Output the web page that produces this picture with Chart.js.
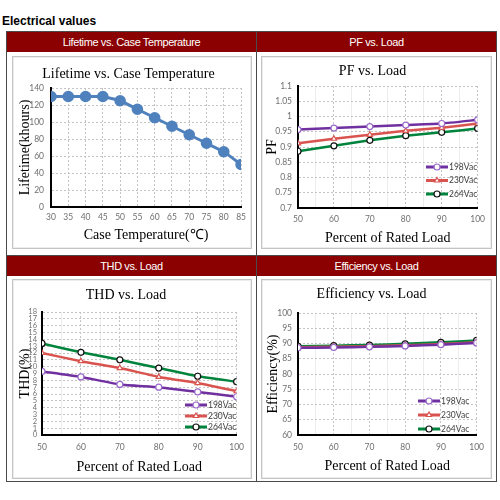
<!DOCTYPE html>
<html lang="en">
<head>
  <meta charset="UTF-8" />
  <title>Electrical values</title>
  <script src="https://cdn.jsdelivr.net/npm/chart.js"></script>
  <style>
    body { margin:0; background:#fff; width:500px; height:500px; position:relative; overflow:hidden; }
    .heading {
      position:absolute; left:2px; top:14px;
      font: bold 12px "Liberation Sans", Arial, sans-serif; color:#000;
    }
    .line { position:absolute; background:#4a4a4a; }
    .hd {
      position:absolute; height:20px; background:#8b0000; color:#fff;
      font: 11px "Liberation Sans", Arial, sans-serif; letter-spacing:-0.4px;
      text-align:center; line-height:20px;
    }
    .box {
      position:absolute; border:1px solid #c4c4c4; box-shadow: inset 0 0 0 1px #ececec;
      box-sizing:border-box;
    }
    .box canvas { position:absolute; left:0; top:0; }
  </style>
</head>
<body>
  <div class="heading">Electrical values</div>

  <!-- table frame -->
  <div class="line" style="left:6px; top:31px; width:491px; height:1px"></div>
  <div class="line" style="left:6px; top:481px; width:491px; height:1px"></div>
  <div class="line" style="left:6px; top:31px; width:1px; height:451px"></div>
  <div class="line" style="left:496px; top:31px; width:1px; height:451px"></div>
  <div class="line" style="left:256px; top:31px; width:1px; height:451px"></div>
  <div class="line" style="left:6px; top:255px; width:491px; height:1px"></div>

  <div class="hd" style="left:7px; top:32px; width:249px">Lifetime vs. Case Temperature</div>
  <div class="hd" style="left:257px; top:32px; width:239px">PF vs. Load</div>
  <div class="hd" style="left:7px; top:256px; width:249px">THD vs. Load</div>
  <div class="hd" style="left:257px; top:256px; width:239px">Efficiency vs. Load</div>

  <div class="box" style="left:12px; top:56px; width:240px; height:193px">
    <canvas id="lifeChart" width="238" height="191"></canvas>
  </div>
  <div class="box" style="left:261px; top:56px; width:231px; height:193px">
    <canvas id="pfChart" width="229" height="191"></canvas>
  </div>
  <div class="box" style="left:12px; top:279px; width:240px; height:200px">
    <canvas id="thdChart" width="238" height="198"></canvas>
  </div>
  <div class="box" style="left:261px; top:279px; width:231px; height:200px">
    <canvas id="effChart" width="229" height="198"></canvas>
  </div>

  <script>
    // Lifetime vs. case temperature
    const caseTemps = [30, 35, 40, 45, 50, 55, 60, 65, 70, 75, 80, 85];
    const lifetime = [130, 130, 130, 130, 125, 115, 105, 95, 85, 75, 65, 50];

    // load in percent of rated load
    const loads = [50, 60, 70, 80, 90, 100];
    const voltages = ['198Vac', '230Vac', '264Vac'];

    const pf198 = [0.957, 0.962, 0.967, 0.972, 0.977, 0.989];
    const pf230 = [0.912, 0.927, 0.940, 0.953, 0.963, 0.977];
    const pf264 = [0.886, 0.904, 0.922, 0.937, 0.948, 0.961];

    const thd198 = [9.3, 8.5, 7.4, 7.0, 6.3, 5.6];
    const thd230 = [12.0, 10.8, 9.8, 8.5, 7.6, 6.4];
    const thd264 = [13.4, 12.1, 11.0, 9.8, 8.6, 7.8];

    const eff198 = [88.6, 88.7, 88.9, 89.2, 89.6, 90.2];
    const eff230 = [88.8, 88.9, 89.1, 89.4, 89.8, 90.4];
    const eff264 = [89.1, 89.3, 89.5, 89.9, 90.4, 91.0];

    const SERIF = '"Liberation Serif", "Times New Roman", serif';
    const SANS = 'Lato, "Liberation Sans", sans-serif';
    const GRID_MAJOR = '#c4c4c4';
    const GRID_MINOR = '#ececec';

    const seriesStyle = [
      { color: '#7030a0', point: 'circle', pointBorder: '#9a6acb' },
      { color: '#d9534f', point: 'triangle', pointBorder: '#d9534f' },
      { color: '#00843d', point: 'circle', pointBorder: '#111111' }
    ];

    // legend drawn as line + marker, inside the plot area
    const lineLegend = {
      id: 'lineLegend',
      afterDraw(chart, args, opts) {
        if (!opts || !opts.display) return;
        const ctx = chart.ctx;
        const area = chart.chartArea;
        ctx.save();
        chart.data.datasets.forEach((ds, i) => {
          const y = area.top + opts.top + i * opts.rowGap;
          const x0 = area.left + opts.left;
          ctx.strokeStyle = ds.borderColor;
          ctx.lineWidth = 3;
          ctx.beginPath();
          ctx.moveTo(x0, y);
          ctx.lineTo(x0 + opts.lineLen, y);
          ctx.stroke();
          ctx.fillStyle = ds.pointBackgroundColor;
          ctx.strokeStyle = ds.pointBorderColor;
          ctx.lineWidth = ds.pointBorderWidth;
          Chart.helpers.drawPoint(ctx, {
            pointStyle: ds.pointStyle, radius: ds.pointRadius,
            borderWidth: ds.pointBorderWidth, rotation: 0
          }, x0 + opts.lineLen / 2, y);
          ctx.fillStyle = '#404040';
          ctx.font = '8.5px ' + SANS;
          ctx.textBaseline = 'middle';
          ctx.textAlign = 'left';
          ctx.fillText(ds.label, x0 + opts.lineLen + 1, y);
        });
        ctx.restore();
      }
    };
    Chart.register(lineLegend);

    function makeSeries(values) {
      return values.map((v, i) => {
        const s = seriesStyle[i];
        return {
          label: voltages[i],
          data: loads.map((x, j) => ({ x: x, y: v[j] })),
          borderColor: s.color,
          borderWidth: 2.5,
          pointStyle: s.point,
          pointRadius: 3,
          pointBackgroundColor: '#ffffff',
          pointBorderColor: s.pointBorder,
          pointBorderWidth: 1.2,
          tension: 0.15
        };
      });
    }

    function axisX(min, max, step, labelEvery, cfg) {
      return {
        type: 'linear', min: min, max: max,
        ticks: {
          stepSize: step, color: '#707070', font: { family: SANS, size: 8.5 },
          padding: cfg.tickPad, maxRotation: 0, autoSkip: false,
          callback: v => (v % labelEvery === 0 ? v : '')
        },
        grid: {
          drawTicks: false,
          color: c => (c.tick && c.tick.value % labelEvery === 0 ? GRID_MAJOR : GRID_MINOR),
          lineWidth: 1
        },
        border: {
          color: '#000', width: 2,
          dash: c => (c.tick && c.tick.value % labelEvery === 0 ? [2, 2] : [])
        },
        title: {
          display: true, text: cfg.title, color: '#000',
          font: { family: SERIF, size: 14 }, padding: { top: 0, bottom: cfg.titlePad }
        },
        afterFit: s => { s.height = cfg.height; }
      };
    }

    function axisY(min, max, step, cfg) {
      return {
        type: 'linear', min: min, max: max,
        ticks: {
          stepSize: step, color: '#707070', font: { family: SANS, size: cfg.tickSize || 8.5 },
          padding: cfg.tickPad, autoSkip: false,
          callback: v => Number(v.toFixed(2)).toString()
        },
        grid: { drawTicks: false, color: GRID_MAJOR, lineWidth: 1 },
        border: { color: '#000', width: 2, dash: [2, 2] },
        title: {
          display: true, text: cfg.title, color: '#000',
          font: { family: SERIF, size: 14 }, padding: { top: cfg.titlePad, bottom: 0 }
        },
        afterFit: s => { s.width = cfg.width; }
      };
    }

    function baseOptions(title, titlePad, right, x, y, legend) {
      return {
        responsive: false, animation: false,
        layout: { padding: { left: 0, right: right, top: 0, bottom: 0 } },
        plugins: {
          legend: { display: false },
          tooltip: { enabled: false },
          title: {
            display: true, text: title, color: '#000',
            font: { family: SERIF, size: 14, weight: 'normal' },
            padding: titlePad
          },
          lineLegend: legend
        },
        scales: { x: x, y: y }
      };
    }

    new Chart(document.getElementById('lifeChart'), {
      type: 'line',
      data: {
        datasets: [{
          label: 'Lifetime',
          data: caseTemps.map((t, i) => ({ x: t, y: lifetime[i] })),
          borderColor: '#4f81bd', borderWidth: 3,
          pointRadius: 4.3, pointBackgroundColor: '#4f81bd', pointBorderColor: '#4f81bd',
          tension: 0.1
        }]
      },
      options: baseOptions('Lifetime vs. Case Temperature', { top: 8.6, bottom: 5.6 }, 7,
        axisX(30, 85, 5, 5, { title: 'Case Temperature(℃)', tickPad: 5, titlePad: 4, height: 41 }),
        axisY(0, 140, 20, { title: 'Lifetime(khours)', tickPad: 7, titlePad: 4, width: 38 }),
        { display: false })
    });

    new Chart(document.getElementById('pfChart'), {
      type: 'line',
      data: { datasets: makeSeries([pf198, pf230, pf264]) },
      options: baseOptions('PF vs. Load', { top: 5.6, bottom: 6.6 }, 8,
        axisX(50, 100, 5, 10, { title: 'Percent of Rated Load', tickPad: 6, titlePad: 1, height: 40 }),
        axisY(0.7, 1.1, 0.05, { title: 'PF', tickPad: 6, titlePad: 2, width: 36 }),
        { display: true, left: 128, top: 81, rowGap: 13.5, lineLen: 22 })
    });

    new Chart(document.getElementById('thdChart'), {
      type: 'line',
      data: { datasets: makeSeries([thd198, thd230, thd264]) },
      options: baseOptions('THD vs. Load', { top: 6.6, bottom: 8.6 }, 12,
        axisX(50, 100, 5, 10, { title: 'Percent of Rated Load', tickPad: 7, titlePad: 2.6, height: 43 }),
        axisY(0, 18, 1, { title: 'THD(%)', tickPad: 5, titlePad: 3.6, width: 29, tickSize: 7.5 }),
        { display: true, left: 143, top: 93, rowGap: 11, lineLen: 22 })
    });

    new Chart(document.getElementById('effChart'), {
      type: 'line',
      data: { datasets: makeSeries([eff198, eff230, eff264]) },
      options: baseOptions('Efficiency vs. Load', { top: 5.6, bottom: 10.6 }, 10,
        axisX(50, 100, 5, 10, { title: 'Percent of Rated Load', tickPad: 7, titlePad: 3.6, height: 43 }),
        axisY(60, 100, 5, { title: 'Efficiency(%)', tickPad: 6, titlePad: 2.6, width: 36 }),
        { display: true, left: 120, top: 88, rowGap: 14, lineLen: 22 })
    });
  </script>
</body>
</html>
